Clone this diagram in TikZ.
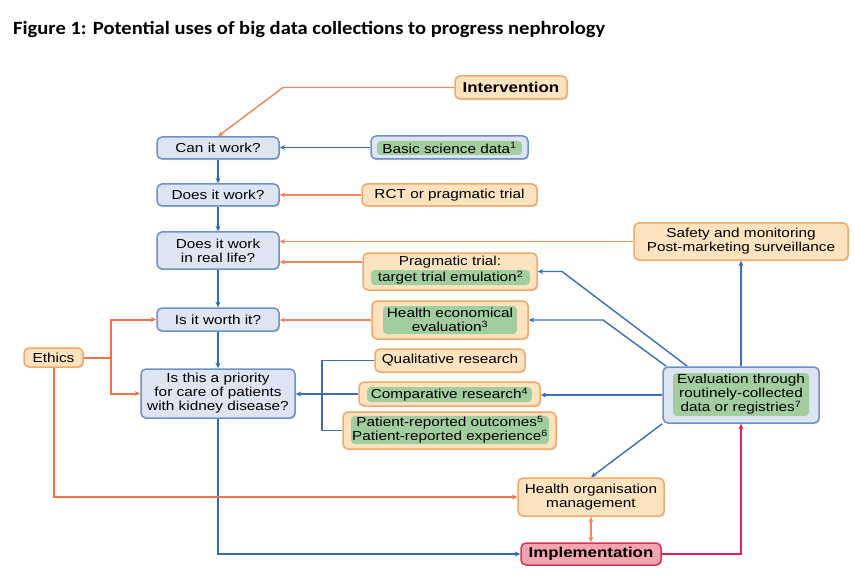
\documentclass[tikz,border=0pt]{standalone}
\usepackage{fontspec}
\setmainfont{Liberation Sans}[FakeStretch=1.18]
\newfontfamily\titlefont{Carlito}[FakeStretch=1.1]
\usetikzlibrary{arrows.meta,shadows}
\definecolor{bfill}{HTML}{DDE5F2}
\definecolor{bborder}{HTML}{6F8FC8}
\definecolor{ofill}{HTML}{FCE3C0}
\definecolor{oborder}{HTML}{F2A869}
\definecolor{gfill}{HTML}{A2CD9F}
\definecolor{barrow}{HTML}{3A6FB5}
\definecolor{bmain}{HTML}{2E6BB3}
\definecolor{oarrow}{HTML}{F2875A}
\definecolor{eth}{HTML}{EE7444}
\definecolor{redl}{HTML}{E0225A}
\definecolor{pfill}{HTML}{F3A5AF}
\definecolor{pborder}{HTML}{D8335E}
\begin{document}
\begin{tikzpicture}[x=1pt,y=-1pt,
  txt/.style={font=\fontsize{13}{14}\selectfont, align=center, inner sep=0pt},
  box/.style={txt, draw, rounded corners=5pt, line width=1.5pt,
    drop shadow={shadow xshift=1.2pt, shadow yshift=-1.2pt, opacity=0.25, fill=black!60}},
  bnode/.style={box, draw=bborder, fill=bfill},
  onode/.style={box, draw=oborder, fill=ofill},
  pnode/.style={box, draw=pborder, fill=pfill},
  gin/.style={txt, fill=gfill, rounded corners=4pt},
  tip/.style={-{Stealth[length=5.5pt,width=5pt]}},
  bthin/.style={draw=barrow, line width=1.4pt},
  othin/.style={draw=oarrow, line width=1.4pt},
  bthick/.style={draw=bmain, line width=2.6pt},
  ethl/.style={draw=eth, line width=2pt},
  redline/.style={draw=redl, line width=2.6pt},
]
\useasboundingbox[fill=white] (0,0) rectangle (854,572);

% title
\node[anchor=base west, inner sep=0pt, font=\titlefont\bfseries\fontsize{18.7}{21}\selectfont] (title) at (13,35)
  {Figure 1: Potential uses of big data collections to progress nephrology};

% left column
\node[bnode, minimum width=122pt, minimum height=22pt] (can) at (218,148) {Can it work?};
\node[bnode, minimum width=122pt, minimum height=22pt] (does) at (218,195) {Does it work?};
\node[bnode, minimum width=122pt, minimum height=37pt] (real) at (218,250.5) {Does it work\\in real life?};
\node[bnode, minimum width=122pt, minimum height=23pt] (worth) at (218,319.5) {Is it worth it?};
\node[bnode, minimum width=154pt, minimum height=49pt] (prio) at (218,393.5) {Is this a priority\\for care of patients\\with kidney disease?};
\node[onode, minimum width=59pt, minimum height=19pt] (ethics) at (53.5,357.5) {Ethics};

% top
\node[onode, minimum width=112pt, minimum height=23pt, font=\bfseries\fontsize{14.3}{16}\selectfont] (intv) at (511,87.5) {Intervention};

% middle column
\node[bnode, minimum width=157pt, minimum height=23pt] (basic) at (449.5,147.5) {};
\node[gin, minimum width=145pt, minimum height=14pt] (basict) at (449.5,148) {Basic science data\textsuperscript{1}};
\node[onode, minimum width=175pt, minimum height=22pt] (rct) at (449.5,195) {RCT or pragmatic trial};
\node[onode, minimum width=174pt, minimum height=37pt] (prag) at (450,271.5) {};
\node[txt] (pragt) at (450,262) {Pragmatic trial:};
\node[gin, minimum width=159pt, minimum height=15pt] (pragg) at (450.5,277.5) {target trial emulation\textsuperscript{2}};
\node[onode, minimum width=156pt, minimum height=38pt] (hee) at (450,320) {};
\node[gin, minimum width=134pt, minimum height=28pt] (heet) at (450,320) {Health economical\\evaluation\textsuperscript{3}};
\node[onode, minimum width=150pt, minimum height=23pt] (qual) at (450,360.5) {Qualitative research};
\node[onode, minimum width=181pt, minimum height=24pt] (comp) at (449.5,394) {};
\node[gin, minimum width=165pt, minimum height=15pt] (compt) at (449.5,394.5) {Comparative research\textsuperscript{4}};
\node[onode, minimum width=213pt, minimum height=37pt] (pro) at (449.5,430.5) {};
\node[gin, minimum width=198pt, minimum height=28pt] (prot) at (450,430) {Patient-reported outcomes\textsuperscript{5}\\Patient-reported experience\textsuperscript{6}};

% right
\node[onode, minimum width=214pt, minimum height=37pt] (safety) at (741,241.5) {Safety and monitoring\\Post-marketing surveillance};
\node[bnode, minimum width=156pt, minimum height=56pt] (eval) at (741,395) {};
\node[gin, minimum width=136pt, minimum height=43pt] (evalt) at (741,394.5) {Evaluation through\\routinely-collected\\data or registries\textsuperscript{7}};

% bottom
\node[onode, minimum width=146pt, minimum height=38pt] (hom) at (591,497) {Health organisation\\management};
\node[pnode, minimum width=140pt, minimum height=22pt, font=\bfseries\fontsize{14.3}{16}\selectfont] (impl) at (591,554) {Implementation};

% coordinates
\coordinate (b1) at (283,87.5);
\coordinate (e1) at (111,357.5);
\coordinate (br) at (322,360.5);
\coordinate (p1) at (562,271.5);
\coordinate (h1) at (603,320);

% main column
\draw[bthick, tip] (can) -- (does);
\draw[bthick, tip] (does) -- (real);
\draw[bthick, tip] (real) -- (worth);
\draw[bthick, tip] (worth) -- (prio);
\draw[bthick, tip] (prio.south) |- (impl.west);

% intervention
\draw[othin, tip] (intv.west) -- (b1) -- (can.north);

% inputs
\draw[bthin, tip] (basic.west) -- (basic.west -| can.east);
\draw[othin, tip] (rct.west) -- (rct.west -| does.east);
\draw[othin, tip] (safety.west) -- (safety.west -| real.east);
\draw[othin, tip] ([yshift=9.5pt]prag.west) -- ([yshift=9.5pt]prag.west -| real.east);
\draw[othin, tip] (hee.west) -- (hee.west -| worth.east);
\draw[bthin] (qual.west) -- (br) |- (pro.west);
\draw[bthin, tip] (comp.west) -- (comp.west -| prio.east);

% ethics
\draw[ethl] (ethics.east) -- (e1);
\draw[ethl, tip] (e1) |- (worth.west);
\draw[ethl, tip] (e1) |- (prio.west);
\draw[ethl, tip] (ethics.south) |- (hom.west);

% evaluation outputs
\draw[bthin, tip] ([xshift=25pt]eval.north west) -- (p1) -- (prag.east);
\draw[bthin, tip] ([xshift=4pt]eval.north west) -- (h1) -- (hee.east);
\draw[bthin, tip] (eval.west) -- (eval.west -| comp.east);
\draw[bthin, tip] (eval.south west) -- (hom.north);
\draw[bthick, draw=barrow, tip] (eval.north) -- (safety.south);

% bottom
\draw[othin, {Stealth[length=5.5pt,width=5pt]}-{Stealth[length=5.5pt,width=5pt]}] (hom.south) -- (impl.north);
\draw[redline, tip] (impl.east) -| (eval.south);
\end{tikzpicture}
\end{document}
